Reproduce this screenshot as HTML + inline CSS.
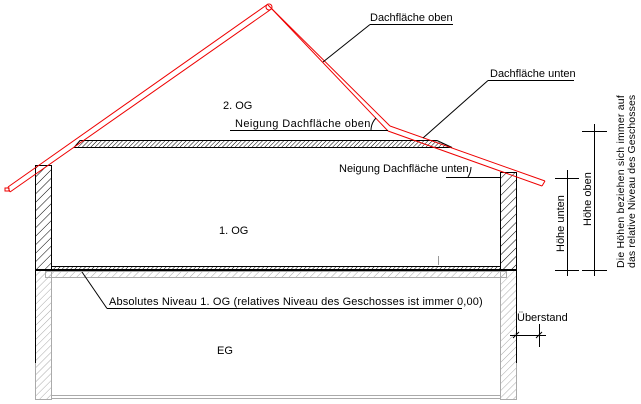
<!DOCTYPE html>
<html><head><meta charset="utf-8"><style>
html,body{margin:0;padding:0;background:#fff;}
svg{display:block;font-family:"Liberation Sans",sans-serif;font-size:11px;}
</style></head><body>
<svg width="641" height="404" viewBox="0 0 641 404" xmlns="http://www.w3.org/2000/svg">
<defs>
<pattern id="hb" width="6" height="6" patternUnits="userSpaceOnUse" patternTransform="rotate(45)"><line x1="0" y1="0" x2="0" y2="6" stroke="#000" stroke-width="1"/></pattern>
<pattern id="hg" width="5" height="5" patternUnits="userSpaceOnUse" patternTransform="rotate(45)"><line x1="0" y1="0" x2="0" y2="5" stroke="#aaa" stroke-width="1"/></pattern>
<pattern id="hs" width="3" height="3" patternUnits="userSpaceOnUse" patternTransform="rotate(45)"><line x1="0" y1="0" x2="0" y2="3" stroke="#000" stroke-width="1"/></pattern>
</defs>
<g stroke="#aaa" stroke-width="1">
<rect x="35.5" y="270.5" width="16" height="129" fill="url(#hg)"/>
<rect x="500.5" y="270.5" width="16" height="129" fill="url(#hg)"/>
<rect x="45.5" y="271.5" width="461" height="6" fill="url(#hg)"/>
<line x1="51" y1="395.5" x2="500" y2="395.5"/>
<line x1="51" y1="398.5" x2="500" y2="398.5"/>
</g>
<rect x="35.5" y="165.5" width="16" height="104" fill="url(#hb)" stroke="#000"/>
<rect x="500.5" y="172.5" width="16" height="97" fill="url(#hb)" stroke="#000"/>
<rect x="51.5" y="266.5" width="449" height="3" fill="url(#hs)" stroke="#000"/>
<line x1="35" y1="270.5" x2="516" y2="270.5" stroke="#000"/>
<line x1="35.5" y1="270" x2="35.5" y2="363" stroke="#000"/>
<line x1="516.5" y1="270" x2="516.5" y2="363" stroke="#000"/>
<polygon points="80,140.5 437,140.5 452,147.5 74,147.5" fill="url(#hs)" stroke="#000"/>
<g stroke="#e00" stroke-width="1" fill="none">
<line x1="8" y1="187" x2="268" y2="4"/>
<line x1="10" y1="192" x2="270" y2="10"/>
<line x1="8" y1="187" x2="10" y2="192"/>
<circle cx="269" cy="7" r="3"/>
<line x1="268" y1="5" x2="390" y2="126"/>
<line x1="271" y1="8" x2="388" y2="131"/>
<line x1="390" y1="126" x2="545" y2="181"/>
<line x1="388" y1="131" x2="542" y2="186"/>
<line x1="545" y1="181" x2="542" y2="186"/>
<rect x="5" y="188" width="4" height="3"/>
</g>
<g stroke="#000" stroke-width="1" fill="none">
<line x1="370" y1="24.5" x2="453" y2="24.5"/>
<line x1="370" y1="24.5" x2="323" y2="62"/>
<line x1="488" y1="80.5" x2="574" y2="80.5"/>
<line x1="488" y1="80.5" x2="423" y2="138"/>
<line x1="230" y1="130.5" x2="388" y2="130.5"/>
<path d="M371,130 A18,18 0 0 1 376,118"/>
<line x1="446" y1="177.5" x2="500" y2="177.5"/>
<path d="M468,177 A20,20 0 0 0 471,167"/>
<line x1="107" y1="308.5" x2="462" y2="308.5"/>
<line x1="107" y1="308.5" x2="82" y2="272"/>
<line x1="510" y1="335.5" x2="546" y2="335.5"/>
<line x1="539.5" y1="324" x2="539.5" y2="347"/>
<line x1="513" y1="338" x2="519" y2="332"/>
<line x1="536" y1="338" x2="542" y2="332"/>
<line x1="567.5" y1="170" x2="567.5" y2="276"/>
<line x1="555" y1="178.5" x2="579" y2="178.5"/>
<line x1="555" y1="270.5" x2="579" y2="270.5"/>
<line x1="594.5" y1="124" x2="594.5" y2="276"/>
<line x1="582" y1="131.5" x2="607" y2="131.5"/>
<line x1="582" y1="270.5" x2="607" y2="270.5"/>
</g>
<line x1="438.5" y1="256" x2="438.5" y2="265" stroke="#999"/>
<g fill="#000">
<text x="223" y="109">2. OG</text>
<text x="235" y="127" letter-spacing="0.4">Neigung Dachfläche oben</text>
<text x="370" y="21">Dachfläche oben</text>
<text x="490" y="77">Dachfläche unten</text>
<text x="339" y="172">Neigung Dachfläche unten</text>
<text x="219" y="234">1. OG</text>
<text x="109" y="305" letter-spacing="0.15">Absolutes Niveau 1. OG (relatives Niveau des Geschosses ist immer 0,00)</text>
<text x="217" y="354">EG</text>
<text x="517" y="321">Überstand</text>
<text transform="translate(564,252) rotate(-90)">Höhe unten</text>
<text transform="translate(591,226) rotate(-90)">Höhe oben</text>
<text transform="translate(624,268) rotate(-90)" font-size="10.5" letter-spacing="0.2">Die Höhen beziehen sich immer auf</text>
<text transform="translate(635,268) rotate(-90)" font-size="10.5" letter-spacing="0.1">das relative Niveau des Geschosses</text>
</g>
</svg>
</body></html>
